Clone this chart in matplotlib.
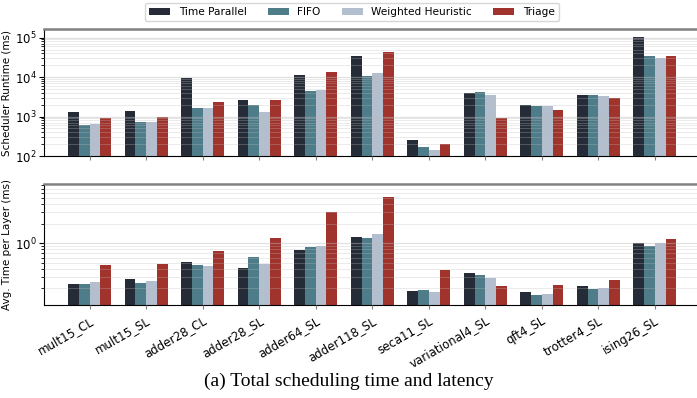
import numpy as np
import matplotlib.pyplot as plt

benchmarks = ['mult15_CL', 'mult15_SL', 'adder28_CL', 'adder28_SL', 'adder64_SL',
              'adder118_SL', 'seca11_SL', 'variational4_SL', 'qft4_SL', 'trotter4_SL',
              'ising26_SL']
schedulers = ['Time Parallel', 'FIFO', 'Weighted Heuristic', 'Triage']
colors = ['#252c37', '#4f7c89', '#b3bfcf', '#a0332c']

# total scheduler runtime (ms)
runtime_tp = [1306, 1384, 9500, 2630, 11100, 33600, 255, 3880, 1960, 3520, 104000]
runtime_fifo = [611, 728, 1650, 1960, 4450, 10700, 169, 4200, 1850, 3520, 34300]
runtime_wh = [646, 728, 1650, 1306, 4800, 12700, 142, 3520, 1850, 3330, 30500]
runtime_triage = [920, 975, 2340, 2630, 13500, 42600, 201, 920, 1470, 2960, 34300]

# average time per layer (ms)
layer_tp = [0.234, 0.279, 0.513, 0.414, 0.788, 1.25, 0.182, 0.346, 0.175, 0.217, 1.01]
layer_fifo = [0.234, 0.242, 0.461, 0.613, 0.877, 1.21, 0.189, 0.322, 0.158, 0.195, 0.909]
layer_wh = [0.251, 0.260, 0.445, 0.478, 0.909, 1.40, 0.175, 0.290, 0.163, 0.202, 0.99]
layer_triage = [0.461, 0.478, 0.760, 1.21, 3.07, 5.24, 0.385, 0.217, 0.225, 0.270, 1.17]

runtime = [runtime_tp, runtime_fifo, runtime_wh, runtime_triage]
per_layer = [layer_tp, layer_fifo, layer_wh, layer_triage]

x = np.arange(len(benchmarks))
width = 0.19

fig = plt.figure(figsize=(6.97, 3.98), dpi=100)
ax1 = fig.add_axes([0.0636, 0.608, 0.941, 0.319])
ax2 = fig.add_axes([0.0636, 0.2337, 0.941, 0.304])


def draw(ax, series, ylim):
    bars = []
    for i, vals in enumerate(series):
        b = ax.bar(x + (i - 1.5) * width, vals, width, color=colors[i],
                   label=schedulers[i], zorder=1)
        bars.append(b)
    ax.set_yscale('log')
    ax.set_ylim(*ylim)
    ax.set_xlim(-0.8, 10.8)
    ax.set_axisbelow(False)
    ax.grid(True, which='major', axis='y', color='#bbbbbb', alpha=0.45, lw=0.9, zorder=3)
    ax.grid(True, which='minor', axis='y', color='#bbbbbb', alpha=0.3, lw=0.7, zorder=3)
    ax.spines['right'].set_visible(False)
    ax.spines['top'].set_color('#808080')
    ax.spines['top'].set_linewidth(1.8)
    ax.tick_params(axis='y', labelsize=8.5, pad=2)
    ax.tick_params(axis='x', length=3, color='#808080')
    ax.yaxis.set_label_coords(-0.05, 0.5)
    return bars


bars = draw(ax1, runtime, (100, 1.65e5))
ax1.set_xticks(x)
ax1.set_xticklabels([])
ax1.set_ylabel('Scheduler Runtime (ms)', fontsize=7.5)

draw(ax2, per_layer, (0.11, 8.3))
ax2.set_xticks(x)
ax2.set_xticklabels(benchmarks, rotation=30, ha='right', fontsize=8.5,
                    rotation_mode='anchor')
ax2.set_ylabel('Avg. Time per Layer (ms)', fontsize=7.5)

fig.legend(handles=bars, labels=schedulers, loc='center', ncol=4,
           bbox_to_anchor=(0.505, 0.97), fontsize=7.6, frameon=True,
           handlelength=2.0, columnspacing=2.0, borderpad=0.4)

fig.text(0.5, 0.043, '(a) Total scheduling time and latency', ha='center',
         va='center', fontsize=14, family='Liberation Serif')

fig.savefig('out.png', dpi=100)
